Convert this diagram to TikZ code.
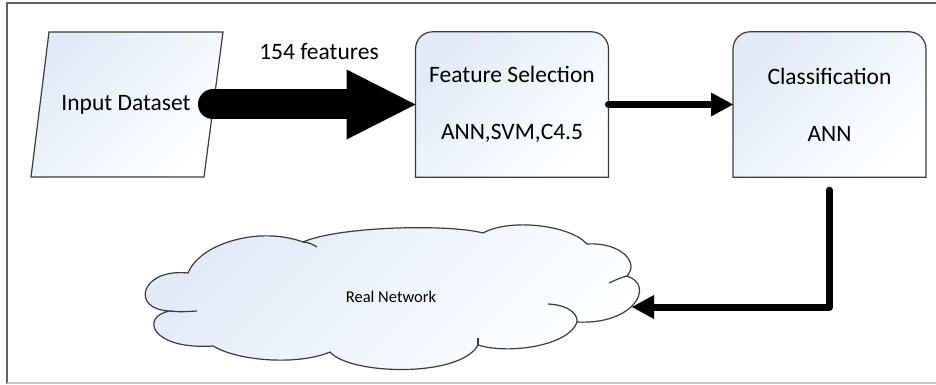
\documentclass[tikz,border=0pt]{standalone}
\usepackage{fontspec}
\setmainfont{Carlito}
\usetikzlibrary{arrows.meta,backgrounds}

\definecolor{shadeblue}{RGB}{226,233,247}
\definecolor{edgegray}{RGB}{60,60,60}

\tikzset{
    box/.style={minimum width=192.5pt, minimum height=145pt, inner sep=0pt, align=center},
    boxline/.style={draw=edgegray, line width=1.2pt, top color=shadeblue, bottom color=white, shading angle=45},
    fatarrow/.style={line width=30pt, line cap=round, -{Triangle[length=69pt,width=70pt,line width=0pt]}},
    thinarrow/.style={line width=7pt, line cap=round, line join=round, -{Triangle[length=22pt,width=24pt,line width=0pt]}},
}

\begin{document}
\begin{tikzpicture}[x=1pt, y=-1pt, font=\fontsize{23.5}{28}\selectfont]
    \useasboundingbox (0,0) rectangle (936,385);

    % Frame
    \draw[line width=1.5pt, gray!75!black] (7,384) -- (7,3) -- (936,3);
    \draw[line width=1.2pt, gray!45] (7,383) -- (936,383);

    % Input data
    \draw[boxline] (49,32) -- (223,32) -- (204,177) -- (31,177) -- cycle;
    \node (input) at (126,105) {Input Dataset};
    \coordinate (tail) at (213,104.5);

    % Stages
    \node[box] (fs) at (512,104.5) {Feature Selection\\[29pt]ANN,SVM,C4.5};
    \node[box] (cls) at (829.5,104.5) {Classification\\[29pt]ANN};
    \begin{scope}[on background layer]
        \foreach \b in {fs,cls}
            \draw[boxline] (\b.south west) -- ([yshift=-17pt]\b.north west)
                arc[start angle=180, end angle=90, radius=17pt]
                -- ([xshift=-17pt]\b.north east)
                arc[start angle=90, end angle=0, radius=17pt]
                -- (\b.south east) -- cycle;
    \end{scope}

    % Cloud
    \draw[boxline] (188,273) .. controls (140,268) and (130,310) .. (170,311)
        .. controls (140,316) and (150,350) .. (213,346)
        .. controls (240,362) and (300,365) .. (330,352)
        .. controls (350,375) and (460,378) .. (478,345)
        .. controls (510,355) and (570,345) .. (577,322)
        .. controls (635,325) and (655,285) .. (627,276)
        .. controls (640,262) and (620,242) .. (587,244)
        .. controls (570,225) and (510,218) .. (483,233)
        .. controls (450,224) and (340,226) .. (303,242)
        .. controls (260,226) and (200,243) .. (188,273) -- cycle;
    \draw[edgegray, line width=1.2pt] (170,311) .. controls (180,312) .. (197,311);
    \draw[edgegray, line width=1.2pt] (548,304) .. controls (570,305) and (578,315) .. (577,322);
    \draw[edgegray, line width=1.2pt] (627,276) .. controls (620,278) .. (609,283);
    \draw[edgegray, line width=1.2pt] (303,242) .. controls (310,243) .. (317,247);
    \draw[edgegray, line width=1.2pt] (478,345) -- (478,338);
    \node[font=\fontsize{16.5}{20}\selectfont] (net) at (391,297) {Real Network};
    \coordinate (netin) at (632,307);

    % Arrows
    \node (feat) at (319,52) {154 features};
    \draw[fatarrow] (tail) -- (fs.west);
    \draw[thinarrow] (fs.east) -- (cls.west);
    \draw[thinarrow] ([yshift=-13pt]cls.south) |- (netin);
\end{tikzpicture}
\end{document}
